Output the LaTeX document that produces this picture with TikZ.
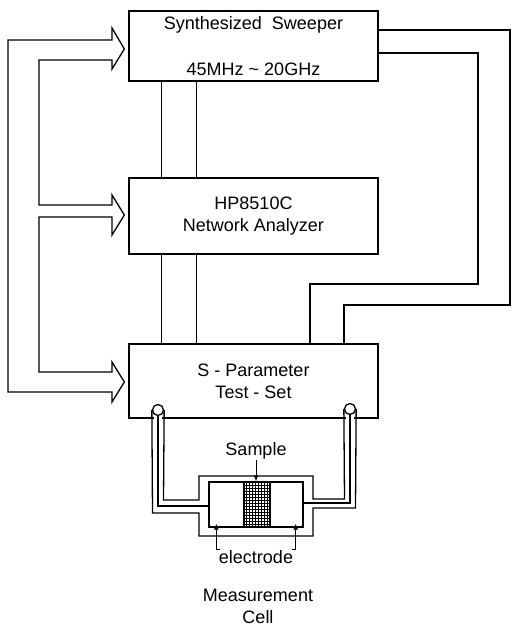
\documentclass[tikz,border=0pt]{standalone}
\usepackage{fontspec}
\setmainfont{Liberation Sans}
\usetikzlibrary{arrows.meta,calc,patterns}

\begin{document}
\begin{tikzpicture}[x=1pt,y=-1pt,line width=1.3pt,
    unit/.style={draw,minimum width=249pt,inner sep=0pt,align=center,font=\fontsize{18}{21.6}\selectfont},
    tag/.style={inner sep=0pt,align=center,font=\fontsize{18}{21.6}\selectfont},
    port/.style={draw,circle,fill=white,minimum size=11pt,inner sep=0pt},
    pointer/.style={-{Latex[length=6pt,width=5pt]},line width=1pt}]
    \useasboundingbox (0,0) rectangle (512,626);

    \node[unit,minimum height=70pt] (sweeper) at (253.5,46) {Synthesized\ \ Sweeper\\[24pt]45MHz \textasciitilde{} 20GHz};
    \node[unit,minimum height=76pt] (analyzer) at (253.5,216) {HP8510C\\Network Analyzer};
    \node[unit,minimum height=74pt] (testset) at (253.5,381) {S - Parameter\\Test - Set};

    \foreach \dx in {33,68} {
        \draw ([xshift=\dx]sweeper.south west) -- ([xshift=\dx]analyzer.north west);
        \draw ([xshift=\dx]analyzer.south west) -- ([xshift=\dx]testset.north west);
    }

    \draw (sweeper.east |- 0,30) -| (510,305) -| (testset.north -| 344,0);
    \draw (sweeper.east |- 0,53) -| (478,284) -| (testset.north -| 310,0);

    \draw[line join=miter] (112,40) -- (112,28) -- ($(sweeper.west)+(-4,3)$) -- (112,69) -- (112,60)
        -- (39,60) -- (39,205) -- (112,205) -- (112,195) -- ($(analyzer.west)+(-4,-1)$) -- (112,235) -- (112,217)
        -- (39,217) -- (39,372) -- (112,372) -- (112,362) -- ($(testset.west)+(-4,1)$) -- (112,402) -- (112,392)
        -- (8,392) -- (8,40) -- cycle;

    \node[draw,minimum width=94pt,minimum height=45pt,inner sep=0pt] (cell) at (256,504.5) {};
    \node[draw,pattern=grid,minimum width=26pt,minimum height=45pt,inner sep=0pt] (sample) at (257,504.5) {};

    \fill[white] (154,412) rectangle (162,422);
    \fill[white] (346,412) rectangle (354,422);
    \node[port] (portA) at (158,410) {};
    \node[port] (portB) at (350,409) {};

    \draw (portA.east) -- (163.5,500) -- (199,500) -- (199,476) -- (313,476) -- (313,499) -- (344.5,499) -- (portB.west);
    \draw (portA.south) |- (cell.west |- 0,506);
    \draw (cell.east |- 0,503) -| (portB.south);
    \draw (portA.west) -- (152.5,513) -- (199,513) -- (199,536) -- (313,536) -- (313,508) -- (355.5,508) -- (portB.east);

    \node[tag] (samplelbl) at (256,451) {Sample};
    \draw[pointer] (samplelbl.south) -- (samplelbl.south |- sample.north);

    \node[tag] (electrode) at (256,557) {electrode};
    \draw[pointer] ([xshift=2]electrode.north west) -| ($(cell.south west)+(8,-4)$);
    \draw[pointer] ([xshift=-2]electrode.north east) -| ($(cell.south east)+(-8,-4)$);

    \node[tag] (cellname) at (258,606.5) {Measurement\\Cell};
\end{tikzpicture}
\end{document}
